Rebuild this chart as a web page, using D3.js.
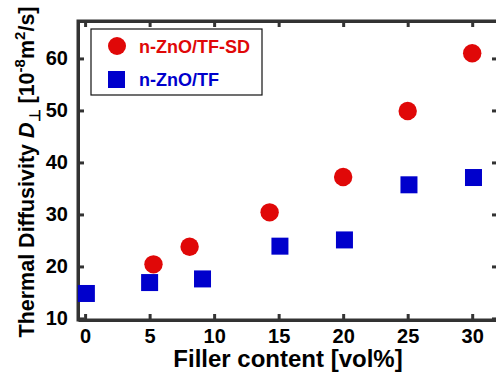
<!DOCTYPE html>
<html>
<head>
<meta charset="utf-8">
<script src="https://cdn.jsdelivr.net/npm/d3@7"></script>
<style>
  body { margin: 0; background: #fff; }
  text { font-family: "Liberation Sans", Arial, sans-serif; font-weight: bold; }
</style>
</head>
<body>
<div id="chart"></div>
<script>
// Data
var sdContent = [5.3, 8.1, 14.3, 20.0, 25.0, 30.0];
var sdDiff = [20.4, 23.8, 30.4, 37.2, 49.9, 61.0];
var tfContent = [0.1, 5.0, 9.1, 15.1, 20.1, 25.1, 30.1];
var tfDiff = [14.8, 16.9, 17.6, 23.9, 25.1, 35.7, 37.1];
var xTicks = [0, 5, 10, 15, 20, 25, 30];
var yTicks = [10, 20, 30, 40, 50, 60];
var seriesNames = ["n-ZnO/TF-SD", "n-ZnO/TF"];

var red = "#e00808", blue = "#0000cc", axisColor = "#333";

var width = 496, height = 374;
var margin = {top: 21, right: -2, bottom: 54, left: 78};
var innerW = width - margin.left - margin.right;
var innerH = height - margin.top - margin.bottom;

var svg = d3.select("#chart").append("svg")
    .attr("width", width)
    .attr("height", height);

var g = svg.append("g")
    .attr("transform", "translate(" + margin.left + "," + margin.top + ")");

var x = d3.scaleLinear().domain([-0.55, 32]).range([0, innerW]);
var y = d3.scaleLinear().domain([9.7, 67.2]).range([innerH, 0]);

// axes with inward ticks on all sides
var xAxis = g.append("g")
    .attr("transform", "translate(0," + innerH + ")")
    .call(d3.axisBottom(x).tickValues(xTicks).tickSizeInner(-6).tickSizeOuter(0).tickPadding(9));
var xTop = g.append("g")
    .call(d3.axisTop(x).tickValues(xTicks).tickSizeInner(-6).tickSizeOuter(0).tickFormat(""));
var yAxis = g.append("g")
    .call(d3.axisLeft(y).tickValues(yTicks).tickSizeInner(-6).tickSizeOuter(0).tickPadding(10));
var yRight = g.append("g")
    .attr("transform", "translate(" + innerW + ",0)")
    .call(d3.axisRight(y).tickValues(yTicks).tickSizeInner(-6).tickSizeOuter(0).tickFormat(""));

[xAxis, xTop, yAxis, yRight].forEach(function(a) {
    a.selectAll("path").attr("stroke", axisColor).attr("stroke-width", 3);
    a.selectAll("line").attr("stroke", axisColor).attr("stroke-width", 3);
    a.selectAll("text").attr("fill", "#000").style("font-size", "20px").attr("font-family", null);
});

// frame
g.append("rect")
    .attr("width", innerW).attr("height", innerH)
    .attr("fill", "none").attr("stroke", axisColor).attr("stroke-width", 3);

// points
g.selectAll(".sq").data(tfContent).enter().append("rect")
    .attr("class", "sq")
    .attr("x", function(d) { return x(d) - 8.5; })
    .attr("y", function(d, i) { return y(tfDiff[i]) - 8.5; })
    .attr("width", 17).attr("height", 17)
    .attr("fill", blue);

g.selectAll(".dot").data(sdContent).enter().append("circle")
    .attr("class", "dot")
    .attr("cx", function(d) { return x(d); })
    .attr("cy", function(d, i) { return y(sdDiff[i]); })
    .attr("r", 9.2)
    .attr("fill", red);

// legend
var leg = svg.append("g").attr("transform", "translate(91,29)");
leg.append("rect").attr("width", 171).attr("height", 66)
    .attr("fill", "#fff").attr("stroke", "#111").attr("stroke-width", 1.2);
leg.append("circle").attr("cx", 26).attr("cy", 17).attr("r", 9).attr("fill", red);
leg.append("rect").attr("x", 17).attr("y", 42).attr("width", 17).attr("height", 17).attr("fill", blue);
leg.append("text").attr("x", 48).attr("y", 24).attr("fill", red)
    .style("font-size", "18px").text(seriesNames[0]);
leg.append("text").attr("x", 48).attr("y", 57).attr("fill", blue)
    .style("font-size", "18px").text(seriesNames[1]);

// axis titles
svg.append("text")
    .attr("x", margin.left + innerW / 2).attr("y", 367)
    .attr("text-anchor", "middle").attr("fill", "#000")
    .style("font-size", "24px")
    .text("Filler content [vol%]");

var yt = svg.append("text")
    .attr("transform", "translate(34,172) rotate(-90)")
    .attr("text-anchor", "middle").attr("fill", "#000")
    .style("font-size", "21.5px");
yt.append("tspan").text("Thermal Diffusivity  ");
yt.append("tspan").style("font-style", "italic").text("D");
yt.append("tspan").attr("dy", 6).style("font-size", "15px").text("\u22a5");
yt.append("tspan").attr("dy", -6).text(" [10");
yt.append("tspan").attr("dy", -9).style("font-size", "15px").text("-8");
yt.append("tspan").attr("dy", 9).text("m");
yt.append("tspan").attr("dy", -9).style("font-size", "15px").text("2");
yt.append("tspan").attr("dy", 9).text("/s]");
</script>
</body>
</html>
